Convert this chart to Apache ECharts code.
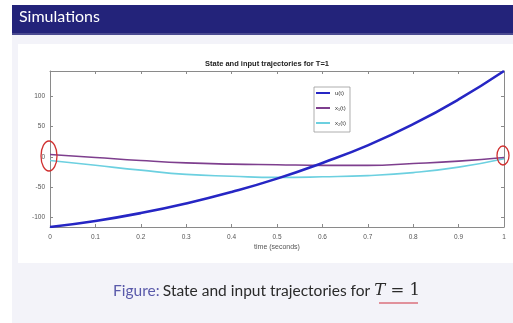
<!DOCTYPE html>
<html><head><meta charset="utf-8">
<script src="https://cdn.jsdelivr.net/npm/echarts@6/dist/echarts.min.js"></script>
<style>html,body{margin:0;padding:0;background:#ffffff;}#c{width:513px;height:323px;}</style>
</head><body><div id="c"></div>
<script>
const times = [0,0.1,0.2,0.3,0.4,0.5,0.6,0.7,0.8,0.9,1.0];
const uVals = [-116,-106,-93,-77,-58,-36,-10,19,54,95,142];
const x1Vals = [4,-1,-6,-10,-12,-13,-14,-14,-11,-7,-1];
const x2Vals = [-6,-14,-22,-29,-32,-34,-33,-31,-26,-17,-3];
const yTicks = [-100,-50,0,50,100];
const seriesNames = ['u(t)','x\u2081(t)','x\u2082(t)'];

const chart = echarts.init(document.getElementById('c'));
const pair = v => times.map((t,i)=>[t,v[i]]);
const axCol = '#8a8a8a';
const lblCol = '#555';
const fontFam = '"Liberation Sans", Arial, sans-serif';
const sansF = 'Lato, "Open Sans", sans-serif';
const serifF = '"DejaVu Serif", "Liberation Serif", serif';
chart.setOption({
  animation:false,
  title:{text:'State and input trajectories for T=1', left:262, top:55, textAlign:'center',
    textStyle:{fontSize:7.5,fontWeight:'bold',color:'#222',fontFamily:fontFam}},
  grid:{left:50,right:9,top:71,bottom:96},
  legend:{orient:'vertical',left:314,top:87,data:seriesNames,itemWidth:14,itemHeight:2,itemGap:9,
    icon:'rect',padding:[3,4,6,2],borderColor:'#999',borderWidth:0.8,backgroundColor:'#fff',
    textStyle:{fontSize:6,color:'#333',fontFamily:fontFam}},
  xAxis:[{type:'value',min:0,max:1,interval:0.1,position:'bottom',
    name:'time (seconds)',nameLocation:'middle',nameGap:17,nameTextStyle:{fontSize:7,color:lblCol,fontFamily:fontFam},
    axisLine:{onZero:false,lineStyle:{color:axCol,width:1}},axisTick:{inside:true,length:3,lineStyle:{color:axCol}},
    axisLabel:{fontSize:6.5,color:lblCol,margin:7,fontFamily:fontFam,formatter:v=>String(Math.round(v*10)/10)},splitLine:{show:false}},
   {type:'value',min:0,max:1,interval:0.1,position:'top',
    axisLine:{onZero:false,lineStyle:{color:axCol,width:1}},axisTick:{inside:true,length:3,lineStyle:{color:axCol}},
    axisLabel:{show:false},splitLine:{show:false}}],
  yAxis:[{type:'value',min:-116,max:142,position:'left',
    axisLine:{show:true,onZero:false,lineStyle:{color:axCol,width:1}},
    axisTick:{show:true,inside:true,length:3,customValues:yTicks,lineStyle:{color:axCol}},
    axisLabel:{fontSize:6.5,color:lblCol,margin:5,customValues:yTicks,fontFamily:fontFam},splitLine:{show:false}},
   {type:'value',min:-116,max:142,position:'right',
    axisLine:{show:true,onZero:false,lineStyle:{color:axCol,width:1}},
    axisTick:{show:true,inside:true,length:3,customValues:yTicks,lineStyle:{color:axCol}},
    axisLabel:{show:false},splitLine:{show:false}}],
  series:[
    {name:seriesNames[0],type:'line',data:pair(uVals),smooth:true,showSymbol:false,lineStyle:{color:'#2626c4',width:2.6},itemStyle:{color:'#2626c4'},z:5},
    {name:seriesNames[1],type:'line',data:pair(x1Vals),smooth:true,showSymbol:false,lineStyle:{color:'#7e3f8e',width:1.6},itemStyle:{color:'#7e3f8e'},z:4},
    {name:seriesNames[2],type:'line',data:pair(x2Vals),smooth:true,showSymbol:false,lineStyle:{color:'#6cd0e0',width:1.6},itemStyle:{color:'#6cd0e0'},z:3}
  ],
  graphic:{elements:[
    {type:'rect',z:-20,shape:{x:12,y:35,width:501,height:288},style:{fill:'#f3f3f9'}},
    {type:'rect',z:-19,shape:{x:18,y:44,width:495,height:219},style:{fill:'#ffffff'}},
    {type:'rect',z:-18,shape:{x:12,y:5,width:501,height:30},style:{fill:'#23237a'}},
    {type:'rect',z:-17,shape:{x:12,y:33,width:501,height:2},style:{fill:'#4a4a90'}},
    {type:'text',z:10,left:19,top:9,style:{text:'Simulations',fill:'#ffffff',fontSize:16,fontFamily:sansF}},
    {type:'text',z:10,left:113,top:282,style:{rich:{
        a:{fill:'#5a5aaa',fontSize:15.5,fontFamily:sansF},
        b:{fill:'#2a2a2a',fontSize:15.5,fontFamily:sansF},
        m:{fill:'#2a2a2a',fontSize:16.5,fontStyle:'italic',fontFamily:serifF},
        n:{fill:'#2a2a2a',fontSize:16.5,fontFamily:serifF}},
      text:'{a|Figure:} {b|State and input trajectories for }{m|T}{n| = 1}'}},
    {type:'line',z:10,shape:{x1:379,y1:303,x2:418,y2:303},style:{stroke:'#d03040',lineWidth:1.2}},
    {type:'ellipse',z:100,shape:{cx:49,cy:156,rx:8,ry:15},style:{fill:'none',stroke:'#d03030',lineWidth:1.3}},
    {type:'ellipse',z:100,shape:{cx:503,cy:155.5,rx:6,ry:9.5},style:{fill:'none',stroke:'#d03030',lineWidth:1.3}}
  ]}
});
</script></body></html>
